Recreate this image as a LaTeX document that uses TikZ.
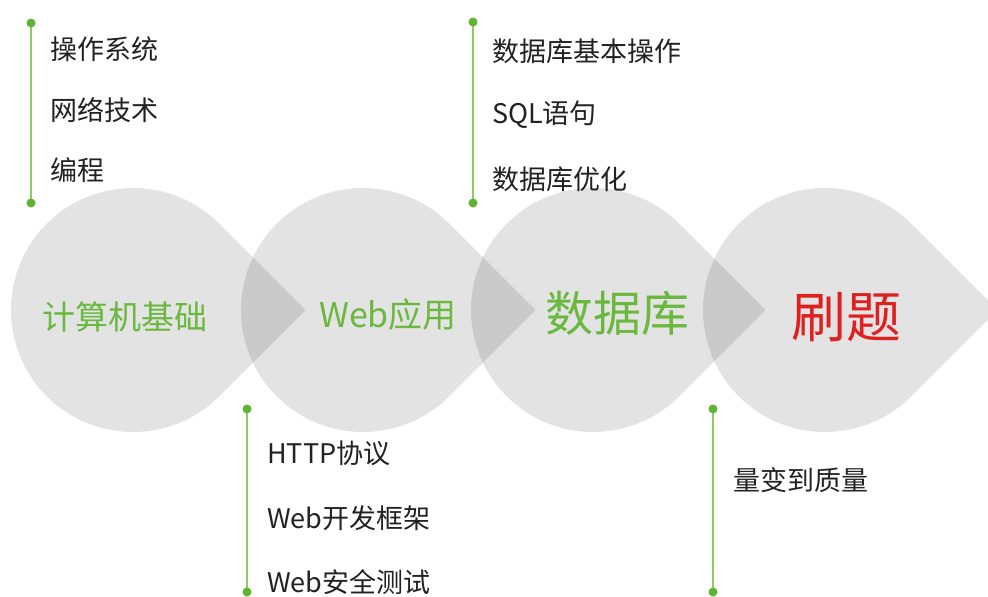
\documentclass[tikz,border=0pt]{standalone}
\usepackage{fontspec}
\setmainfont{Noto Sans CJK SC}
\definecolor{tgreen}{RGB}{106,184,62}
\definecolor{lgreen}{RGB}{140,204,105}
\definecolor{dgreen}{RGB}{96,180,52}
\definecolor{tred}{RGB}{222,32,30}
\definecolor{tgray}{RGB}{34,34,34}
\tikzset{
  drop/.style={fill=black, fill opacity=0.11, draw=none},
  biglabel/.style={inner sep=0pt, text=tgreen},
  item/.style={inner sep=0pt, anchor=west, text=tgray, font=\fontsize{27}{31}\selectfont},
  vline/.style={draw=lgreen, line width=2pt},
  dotmark/.style={fill=dgreen, draw=none}
}
\newcommand{\teardrop}[3]{% cx, cy, r
  \path[drop] ({#1+1.4142*#3},#2) -- ({#1+0.7071*#3},{#2+0.7071*#3})
    arc[start angle=45, end angle=315, radius=#3] -- cycle;}
\begin{document}
\begin{tikzpicture}[x=1pt,y=-1pt]
\useasboundingbox (0,0) rectangle (988,597);
\fill[white] (0,0) rectangle (988,597);
\begin{scope}
\clip (0,0) rectangle (988,597);
\teardrop{133}{310}{122}
\teardrop{363}{310}{122}
\teardrop{593}{310}{122}
\teardrop{825}{310}{122}
\end{scope}

\node[biglabel, font=\fontsize{33}{38}\selectfont] (l1) at (125,317) {计算机基础};
\node[biglabel, font=\fontsize{34}{39}\selectfont] (l2) at (388,315) {Web应用};
\node[biglabel, font=\fontsize{48}{54}\selectfont] (l3) at (617,313) {数据库};
\node[biglabel, text=tred, font=\fontsize{55}{60}\selectfont] (l4) at (846,317) {刷题};

% group 1
\coordinate (a1) at (31,23);
\coordinate (a2) at (31,203);
\draw[vline] (a1) -- (a2);
\fill[dotmark] (a1) circle (4.5);
\fill[dotmark] (a2) circle (4.5);
\node[item] (t11) at (50,49) {操作系统};
\node[item] (t12) at (50,110) {网络技术};
\node[item] (t13) at (50,170) {编程};

% group 2
\coordinate (b1) at (473,22);
\coordinate (b2) at (473,203);
\draw[vline] (b1) -- (b2);
\fill[dotmark] (b1) circle (4.5);
\fill[dotmark] (b2) circle (4.5);
\node[item] (t21) at (492,51) {数据库基本操作};
\node[item] (t22) at (492,115) {SQL语句};
\node[item] (t23) at (492,179) {数据库优化};

% group 3
\coordinate (c1) at (247,409);
\coordinate (c2) at (247,592);
\draw[vline] (c1) -- (c2);
\fill[dotmark] (c1) circle (4.5);
\fill[dotmark] (c2) circle (4.5);
\node[item] (t31) at (267,453) {HTTP协议};
\node[item] (t32) at (267,518) {Web开发框架};
\node[item] (t33) at (267,582) {Web安全测试};

% group 4
\coordinate (d1) at (713,409);
\coordinate (d2) at (713,592);
\draw[vline] (d1) -- (d2);
\fill[dotmark] (d1) circle (4.5);
\fill[dotmark] (d2) circle (4.5);
\node[item] (t41) at (733,480) {量变到质量};
\end{tikzpicture}
\end{document}
